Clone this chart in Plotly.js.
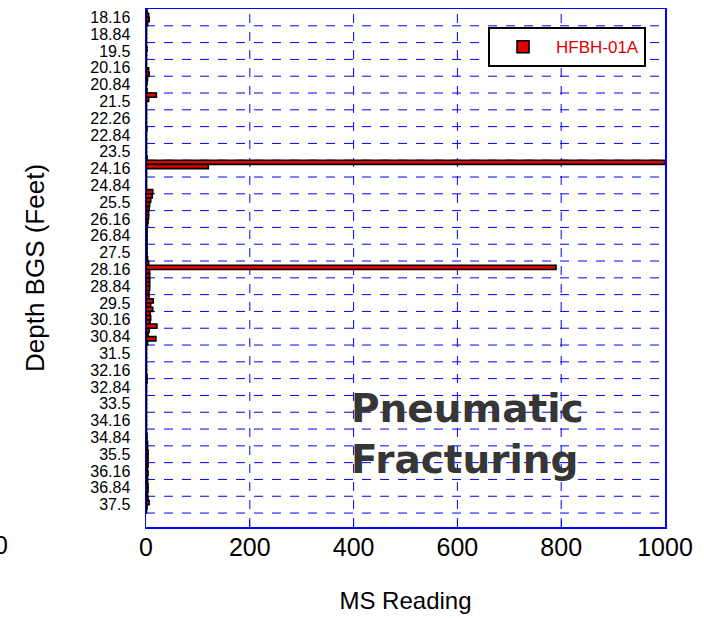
<!DOCTYPE html>
<html>
<head>
<meta charset="utf-8">
<script src="https://cdn.plot.ly/plotly-3.0.1.min.js"></script>
<style>html,body{margin:0;padding:0;background:#fff;}#chart{width:704px;height:618px;}</style>
</head>
<body>
<div id="chart"></div>
<script>
// Depth tick labels (one per 4 readings)
const depthLabels = ["18.16","18.84","19.5","20.16","20.84","21.5","22.26","22.84","23.5","24.16",
  "24.84","25.5","26.16","26.84","27.5","28.16","28.84","29.5","30.16","30.84",
  "31.5","32.16","32.84","33.5","34.16","34.84","35.5","36.16","36.84","37.5"];

// MS readings, top to bottom (4 readings per labelled interval)
const msReadings = [
  2, 5, 6, 3,       // 18.16
  1, 1, 1, 1,       // 18.84
  1, 2, 1, 1,       // 19.5
  1, 1, 5, 6,       // 20.16
  3, 2, 1, 2,       // 20.84
  20, 5, 1, 1,      // 21.5
  1, 1, 1, 1,       // 22.26
  2, 1, 1, 1,       // 22.84
  1, 1, 1, 2,       // 23.5
  1000, 120, 1, 1,  // 24.16
  1, 1, 1, 13,      // 24.84
  12, 9, 7, 6,      // 25.5
  5, 5, 4, 3,       // 26.16
  2, 2, 2, 2,       // 26.84
  2, 2, 2, 3,       // 27.5
  5, 790, 7, 7,     // 28.16
  7, 7, 7, 6,       // 28.84
  6, 14, 9, 13,     // 29.5
  8, 9, 8, 21,      // 30.16
  6, 4, 19, 3,      // 30.84
  1, 1, 1, 1,       // 31.5
  1, 1, 1, 2,       // 32.16
  2, 1, 1, 1,       // 32.84
  1, 1, 1, 1,       // 33.5
  1, 1, 1, 1,       // 34.16
  1, 2, 2, 3,       // 34.84
  3, 4, 4, 4,       // 35.5
  4, 3, 4, 3,       // 36.16
  3, 4, 4, 3,       // 36.84
  4, 6, 2, 1        // 37.5
];
const seriesName = "HFBH-01A";
const xTicks = [0, 200, 400, 600, 800, 1000];

// depth axis: readings every 1/6 ft
const depthStart = 18.0;
const depthStep = 1/6;
const perLabel = 4;
const depths = msReadings.map((_, i) => depthStart + i * depthStep);
const tickVals = depthLabels.map((_, k) => depthStart + (perLabel * k + 1.5) * depthStep);
const gridVals = depthLabels.map((_, k) => depthStart - depthStep / 2 + perLabel * (k + 1) * depthStep);
const yTop = depthStart - depthStep / 2;
const yBottom = yTop + 30.83 * perLabel * depthStep;

const blue = 'rgb(0,0,255)';

const trace = {
  type: 'bar',
  orientation: 'h',
  name: seriesName,
  x: msReadings,
  y: depths,
  width: depthStep,
  marker: {color: 'rgb(225,0,0)', line: {color: '#000', width: 1.6}},
  showlegend: true,
  cliponaxis: true
};

const hGrid = gridVals.map(v => ({
  type: 'line', layer: 'below', xref: 'paper', yref: 'y',
  x0: 0, x1: 1, y0: v, y1: v,
  line: {color: blue, width: 1, dash: 'dash'}
}));
const vGrid = xTicks.slice(1, -1).map(v => ({
  type: 'line', layer: 'below', xref: 'x', yref: 'paper',
  x0: v, x1: v, y0: 0, y1: 1,
  line: {color: blue, width: 1, dash: 'dash'}
}));

const layout = {
  width: 704, height: 618,
  margin: {l: 146, r: 39, t: 9, b: 91},
  paper_bgcolor: '#fff', plot_bgcolor: '#fff',
  bargap: 0,
  showlegend: true,
  font: {family: 'Liberation Sans, Arial, sans-serif', color: '#000'},
  xaxis: {
    range: [0, 1000],
    tickvals: xTicks,
    ticktext: xTicks.map(String),
    showgrid: false,
    zeroline: false,
    showline: true, linecolor: blue, linewidth: 1.5, mirror: true,
    ticks: 'inside', ticklen: 7, tickcolor: blue, tickwidth: 1,
    tickfont: {family: 'Liberation Sans, Arial, sans-serif', size: 25, color: '#000'},
    ticklabelstandoff: -3,
    title: {text: 'MS Reading', font: {family: 'Liberation Sans, Arial, sans-serif', size: 24, color: '#000'}, standoff: 32}
  },
  yaxis: {
    range: [yBottom, yTop],
    tickmode: 'array',
    tickvals: tickVals,
    ticktext: depthLabels,
    showgrid: false,
    zeroline: false,
    showline: true, linecolor: blue, linewidth: 1.5, mirror: true,
    ticks: '',
    tickfont: {family: 'Liberation Sans, Arial, sans-serif', size: 16, color: '#000'},
    ticklabelstandoff: 11,
    title: {text: 'Depth BGS (Feet)', font: {family: 'Liberation Sans, Arial, sans-serif', size: 26, color: '#000'}, standoff: 38}
  },
  legend: {
    x: 0.659, y: 0.965, xanchor: 'left', yanchor: 'top',
    bgcolor: '#fff', bordercolor: '#000', borderwidth: 2,
    itemwidth: 56,
    font: {family: 'Liberation Sans, Arial, sans-serif', size: 17, color: 'rgb(225,0,0)'}
  },
  shapes: hGrid.concat(vGrid),
  annotations: [
    {xref: 'paper', yref: 'paper', x: 0.62, y: 0.18, xanchor: 'center', yanchor: 'middle',
     text: '<b>Pneumatic<br>Fracturing</b>', showarrow: false, align: 'left',
     font: {family: 'DejaVu Sans, Verdana, sans-serif', size: 39, color: '#363636'}},
    {xref: 'paper', yref: 'paper', x: -0.262, y: -0.035, xanchor: 'right', yanchor: 'middle',
     text: '0', showarrow: false,
     font: {family: 'Liberation Sans, Arial, sans-serif', size: 25, color: '#000'}}
  ]
};

Plotly.newPlot('chart', [trace], layout, {displayModeBar: false, staticPlot: true});
</script>
</body>
</html>
